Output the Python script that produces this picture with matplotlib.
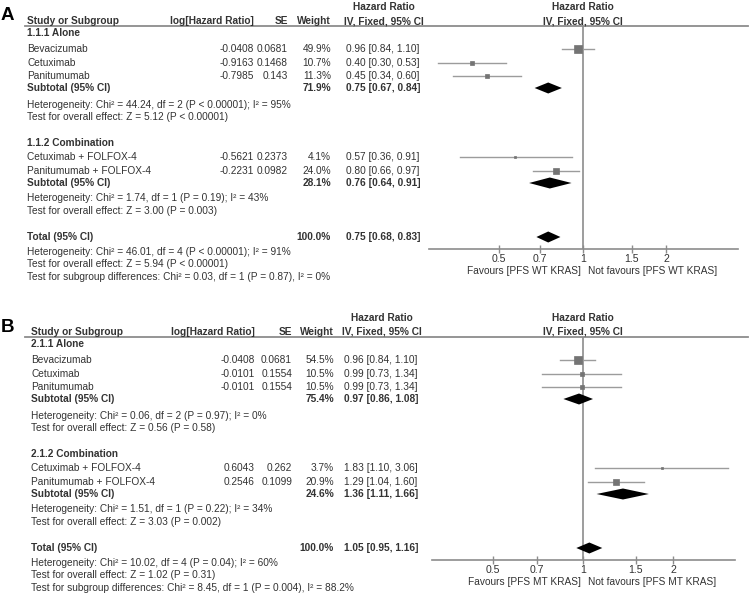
import numpy as np
import matplotlib
matplotlib.use('Agg')
import matplotlib.pyplot as plt

plt.rcParams['font.family'] = ['Liberation Sans', 'DejaVu Sans']

W, H = 752, 597
TXT = '#333333'
LINE = '#8c8c8c'
CI_COL = '#9c9c9c'
SQ_COL = '#747474'

# ---- panel A data ----
a_groups = ['1.1.1 Alone', '1.1.2 Combination']
a_names = ['Bevacizumab', 'Cetuximab', 'Panitumumab',
           'Cetuximab + FOLFOX-4', 'Panitumumab + FOLFOX-4']
a_group_idx = [0, 0, 0, 1, 1]
a_loghr = [-0.0408, -0.9163, -0.7985, -0.5621, -0.2231]
a_se = [0.0681, 0.1468, 0.143, 0.2373, 0.0982]
a_weight = [49.9, 10.7, 11.3, 4.1, 24.0]
a_hr = [0.96, 0.40, 0.45, 0.57, 0.80]
a_lo = [0.84, 0.30, 0.34, 0.36, 0.66]
a_hi = [1.10, 0.53, 0.60, 0.91, 0.97]
a_sub_weight = [71.9, 28.1]
a_sub_hr = [0.75, 0.76]
a_sub_lo = [0.67, 0.64]
a_sub_hi = [0.84, 0.91]
a_total = [0.75, 0.68, 0.83]
a_het = ['Heterogeneity: Chi² = 44.24, df = 2 (P < 0.00001); I² = 95%',
         'Heterogeneity: Chi² = 1.74, df = 1 (P = 0.19); I² = 43%']
a_test = ['Test for overall effect: Z = 5.12 (P < 0.00001)',
          'Test for overall effect: Z = 3.00 (P = 0.003)']
a_total_notes = ['Heterogeneity: Chi² = 46.01, df = 4 (P < 0.00001); I² = 91%',
                 'Test for overall effect: Z = 5.94 (P < 0.00001)',
                 'Test for subgroup differences: Chi² = 0.03, df = 1 (P = 0.87), I² = 0%']
a_pop = 'PFS WT KRAS'

# ---- panel B data ----
b_groups = ['2.1.1 Alone', '2.1.2 Combination']
b_names = ['Bevacizumab', 'Cetuximab', 'Panitumumab',
           'Cetuximab + FOLFOX-4', 'Panitumumab + FOLFOX-4']
b_group_idx = [0, 0, 0, 1, 1]
b_loghr = [-0.0408, -0.0101, -0.0101, 0.6043, 0.2546]
b_se = [0.0681, 0.1554, 0.1554, 0.262, 0.1099]
b_weight = [54.5, 10.5, 10.5, 3.7, 20.9]
b_hr = [0.96, 0.99, 0.99, 1.83, 1.29]
b_lo = [0.84, 0.73, 0.73, 1.10, 1.04]
b_hi = [1.10, 1.34, 1.34, 3.06, 1.60]
b_sub_weight = [75.4, 24.6]
b_sub_hr = [0.97, 1.36]
b_sub_lo = [0.86, 1.11]
b_sub_hi = [1.08, 1.66]
b_total = [1.05, 0.95, 1.16]
b_het = ['Heterogeneity: Chi² = 0.06, df = 2 (P = 0.97); I² = 0%',
         'Heterogeneity: Chi² = 1.51, df = 1 (P = 0.22); I² = 34%']
b_test = ['Test for overall effect: Z = 0.56 (P = 0.58)',
          'Test for overall effect: Z = 3.03 (P = 0.002)']
b_total_notes = ['Heterogeneity: Chi² = 10.02, df = 4 (P = 0.04); I² = 60%',
                 'Test for overall effect: Z = 1.02 (P = 0.31)',
                 'Test for subgroup differences: Chi² = 8.45, df = 1 (P = 0.004), I² = 88.2%']
b_pop = 'PFS MT KRAS'

ticks = [0.5, 0.7, 1, 1.5, 2]
tick_labels = ['0.5', '0.7', '1', '1.5', '2']

fig = plt.figure(figsize=(W / 100, H / 100), dpi=100)
bg = fig.add_axes([0, 0, 1, 1])
bg.set_xlim(0, W)
bg.set_ylim(H, 0)
bg.axis('off')

FS = 7.3


def ci_txt(h, l, u):
    return f'{h:.2f} [{l:.2f}, {u:.2f}]'


def draw_panel(top, letter, groups, names, gidx, loghr, se, weight, hr, lo, hi,
               sw, shr, slo, shi, total, het, test, total_notes, pop,
               cols, fx, xlim):
    xn, xl, xs, xw, xc = cols
    # rows (pixel offsets within panel)
    grp_y = [33, 143]
    study_y = [49, 63, 76, 157, 171]
    sub_y = [88, 183]
    het_y = [105, 198]
    test_y = [117, 211]
    tot_y = 237
    notes_y = [252, 264, 277]
    axis_y = 249

    bg.text(1, top + 16, letter, fontsize=13.5, fontweight='bold', color='black',
            ha='left', va='center')
    hb = dict(fontsize=FS, fontweight='bold', color=TXT, va='center')
    bg.text(xn, top + 21, 'Study or Subgroup', ha='left', **hb)
    bg.text(xl, top + 21, 'log[Hazard Ratio]', ha='right', **hb)
    bg.text(xs, top + 21, 'SE', ha='right', **hb)
    bg.text(xw, top + 21, 'Weight', ha='right', **hb)
    bg.text(xc + 38, top + 7, 'Hazard Ratio', ha='center', **hb)
    bg.text(xc + 38, top + 21, 'IV, Fixed, 95% CI', ha='center', **hb)
    bg.text(583, top + 7, 'Hazard Ratio', ha='center', **hb)
    bg.text(583, top + 21, 'IV, Fixed, 95% CI', ha='center', **hb)
    bg.plot([25, 748], [top + 26, top + 26], color=LINE, lw=1.3)

    nt = dict(fontsize=FS, color=TXT, va='center')
    for g in range(2):
        bg.text(xn, top + grp_y[g], groups[g], ha='left', **hb)
        bg.text(xn, top + sub_y[g], 'Subtotal (95% CI)', ha='left', **hb)
        bg.text(xw, top + sub_y[g], f'{sw[g]:.1f}%', ha='right', **hb)
        bg.text(xc, top + sub_y[g], ci_txt(shr[g], slo[g], shi[g]), ha='left', **hb)
        bg.text(xn, top + het_y[g], het[g], ha='left', **nt)
        bg.text(xn, top + test_y[g], test[g], ha='left', **nt)
    for i in range(len(names)):
        y = top + study_y[i]
        bg.text(xn, y, names[i], ha='left', **nt)
        bg.text(xl, y, str(loghr[i]), ha='right', **nt)
        bg.text(xs, y, str(se[i]), ha='right', **nt)
        bg.text(xw, y, f'{weight[i]:.1f}%', ha='right', **nt)
        bg.text(xc, y, ci_txt(hr[i], lo[i], hi[i]), ha='left', **nt)
    bg.text(xn, top + tot_y, 'Total (95% CI)', ha='left', **hb)
    bg.text(xw, top + tot_y, '100.0%', ha='right', **hb)
    bg.text(xc, top + tot_y, ci_txt(*total), ha='left', **hb)
    for k in range(3):
        bg.text(xn, top + notes_y[k], total_notes[k], ha='left', **nt)

    # forest plot
    y_top = top + 26
    y_ax = top + axis_y
    x0, x1 = fx
    ax = fig.add_axes([x0 / W, 1 - y_ax / H, (x1 - x0) / W, (y_ax - y_top) / H])
    ax.patch.set_visible(False)
    ax.set_xscale('log')
    ax.set_xlim(*xlim)
    ax.set_ylim(y_ax, y_top)
    for s in ['top', 'left', 'right']:
        ax.spines[s].set_visible(False)
    ax.spines['bottom'].set_color(LINE)
    ax.spines['bottom'].set_linewidth(1.2)
    ax.axvline(1, color=LINE, lw=1.2)
    ax.set_xticks(ticks)
    ax.set_xticklabels(tick_labels)
    ax.minorticks_off()
    ax.set_yticks([])
    ax.tick_params(axis='x', direction='inout', length=6, width=1, color=LINE,
                   labelsize=FS + 0.3, labelcolor=TXT, pad=0.5)
    for i in range(len(names)):
        y = top + study_y[i]
        ax.plot([lo[i], hi[i]], [y, y], color=CI_COL, lw=1)
        ax.plot(hr[i], y, marker='s', ms=0.85 * np.sqrt(weight[i]),
                color=SQ_COL, mec=SQ_COL, mew=0.5, zorder=3)
    dh = 5.5
    for g in range(2):
        y = top + sub_y[g]
        ax.fill([slo[g], shr[g], shi[g], shr[g]], [y, y - dh, y, y + dh],
                color='black', lw=0, zorder=4)
    y = top + tot_y
    ax.fill([total[1], total[0], total[2], total[0]], [y, y - dh, y, y + dh],
            color='black', lw=0, zorder=4)
    bg.text(581, top + 271, f'Favours [{pop}]', ha='right', **nt)
    bg.text(588, top + 271, f'Not favours [{pop}]', ha='left', **nt)


draw_panel(0, 'A', a_groups, a_names, a_group_idx, a_loghr, a_se, a_weight,
           a_hr, a_lo, a_hi, a_sub_weight, a_sub_hr, a_sub_lo, a_sub_hi,
           a_total, a_het, a_test, a_total_notes, a_pop,
           (27, 254, 288, 331, 346), (429, 738), (0.279, 3.62))
draw_panel(311, 'B', b_groups, b_names, b_group_idx, b_loghr, b_se, b_weight,
           b_hr, b_lo, b_hi, b_sub_weight, b_sub_hr, b_sub_lo, b_sub_hi,
           b_total, b_het, b_test, b_total_notes, b_pop,
           (31, 255, 292, 334, 344), (432, 735), (0.313, 3.22))

fig.savefig('out.png', dpi=100)
